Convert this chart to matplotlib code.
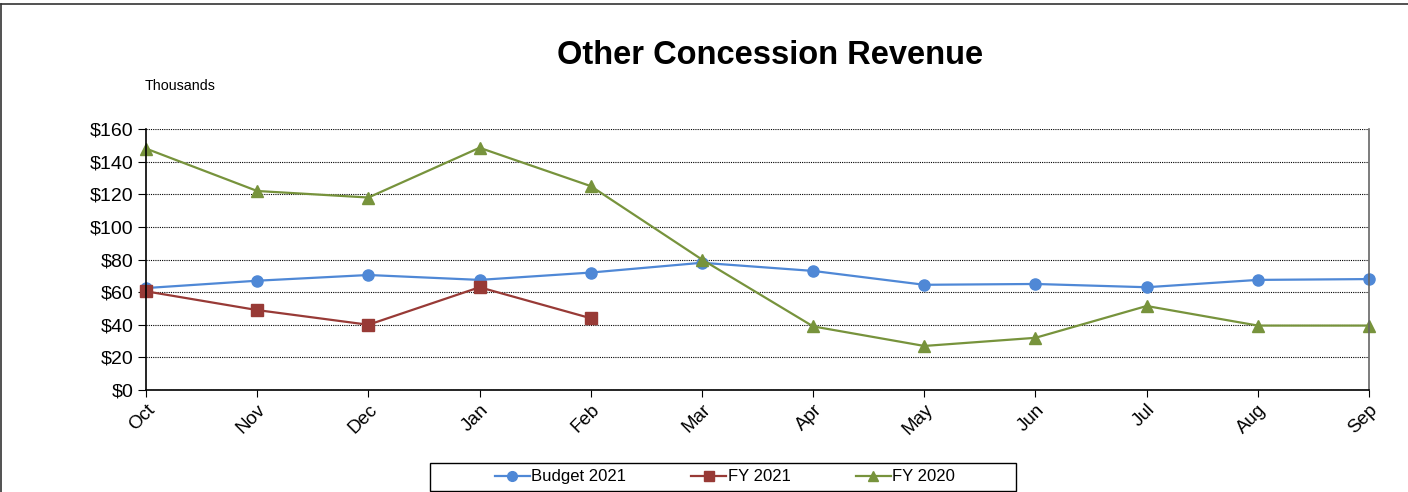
import matplotlib
matplotlib.use("Agg")
import matplotlib.pyplot as plt
from matplotlib.lines import Line2D
from matplotlib.patches import Rectangle
from matplotlib.ticker import FuncFormatter

plt.rcParams['font.family'] = ['Liberation Sans', 'DejaVu Sans']

months = ['Oct', 'Nov', 'Dec', 'Jan', 'Feb', 'Mar', 'Apr', 'May', 'Jun', 'Jul', 'Aug', 'Sep']
budget_2021 = [62.5, 67, 70.5, 67.5, 72, 78, 73, 64.5, 65, 63, 67.5, 68]
fy_2021 = [60.5, 49, 40, 63, 44]
fy_2020 = [148, 122, 118, 148.5, 125, 80, 39, 27, 32, 51.5, 39.5, 39.5]

c_budget = '#4f88d6'
c_fy21 = '#983a36'
c_fy20 = '#77933c'

fig = plt.figure(figsize=(14.08, 4.92), dpi=100)
ax = fig.add_axes([0.1037, 0.2073, 0.8686, 0.5305])

x = list(range(len(months)))
ax.plot(x, budget_2021, color=c_budget, lw=1.6, marker='o', ms=8, label='Budget 2021', zorder=3)
ax.plot(x[:len(fy_2021)], fy_2021, color=c_fy21, lw=1.6, marker='s', ms=8, label='FY 2021', zorder=4)
ax.plot(x, fy_2020, color=c_fy20, lw=1.6, marker='^', ms=9, label='FY 2020', zorder=3)

ax.set_xlim(0, 11)
ax.set_ylim(0, 160)
ax.set_yticks(range(0, 161, 20))
ax.yaxis.set_major_formatter(FuncFormatter(lambda v, p: f'${v:.0f}'))
ax.set_xticks(x)
ax.set_xticklabels(months, rotation=45, ha='right', rotation_mode='anchor')
ax.tick_params(axis='y', labelsize=14, length=6, width=0.8, pad=3)
ax.tick_params(axis='x', labelsize=13.5, length=5, width=0.8, pad=3)
ax.grid(axis='y', color='black', linestyle=(0, (1, 1)), lw=0.8)
ax.set_axisbelow(True)
for side in ['left', 'bottom']:
    ax.spines[side].set_color('black')
    ax.spines[side].set_linewidth(1.2)
ax.spines['top'].set_visible(False)
ax.spines['right'].set_color('#666666')
ax.spines['right'].set_linewidth(1.2)
for s in ax.spines.values():
    s.set_zorder(5)

for ln in ax.lines:
    ln.set_clip_on(False)

fig.text(0.547, 0.888, 'Other Concession Revenue', ha='center', va='center',
         fontsize=23.5, fontweight='bold')
fig.text(0.103, 0.825, 'Thousands', ha='left', va='center', fontsize=10.3)

handles = [
    Line2D([], [], color=c_budget, lw=1.6, marker='o', ms=7),
    Line2D([], [], color=c_fy21, lw=1.6, marker='s', ms=7),
    Line2D([], [], color=c_fy20, lw=1.6, marker='^', ms=7),
]
leg = fig.legend(handles, ['Budget 2021', 'FY 2021', 'FY 2020'], loc='center',
                 bbox_to_anchor=(0.5149, 0.0305), ncol=3, fontsize=12,
                 frameon=False, handlelength=2.1, handletextpad=0.1,
                 columnspacing=3.9, borderpad=0.3, borderaxespad=0)

# wide legend box, padded like the spreadsheet legend
fig.add_artist(Rectangle((0.3054, 0.003), 0.4162, 0.0569, transform=fig.transFigure,
                         fill=False, edgecolor='black', lw=1.0))

# outer chart border (left and top edges)
fig.add_artist(Line2D([0.001, 0.001], [0, 0.992], color='#333333', lw=1.2, transform=fig.transFigure))
fig.add_artist(Line2D([0.001, 1], [0.992, 0.992], color='#333333', lw=1.2, transform=fig.transFigure))

fig.savefig('out.png', dpi=100)
